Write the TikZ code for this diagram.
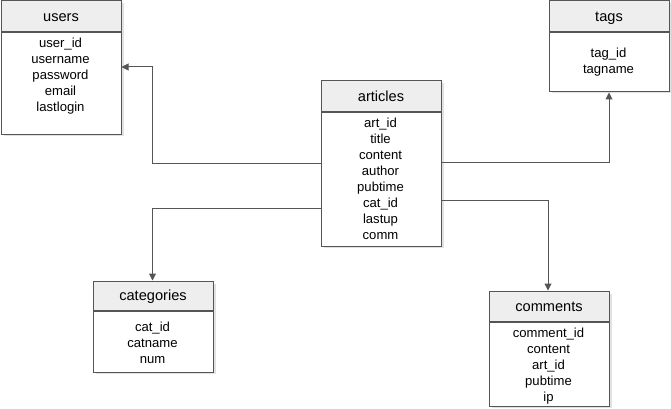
\documentclass[tikz,border=0pt]{standalone}
\usepackage{fontspec}
\setmainfont{Liberation Sans}
\usetikzlibrary{arrows.meta}
\definecolor{edgec}{HTML}{555555}
\definecolor{headc}{HTML}{EEEEEE}
\definecolor{shadec}{HTML}{E2E2E2}
\newcommand\erfields[4]{%
  \foreach \f [count=\i] in {#4} {\node[fld] (#1-\i) at (#2, #3+16*\i-16) {\f};}}
\begin{document}
\begin{tikzpicture}[x=1pt,y=-1pt,
  tblfont/.style={font=\fontsize{13.1}{16}\selectfont},
  hdrfont/.style={font=\fontsize{14.6}{17}\selectfont},
  hdr/.style={draw=edgec, fill=headc, line width=1pt, inner sep=0pt, anchor=north west,
    minimum width=120pt, text height=15pt, text depth=4pt, hdrfont},
  bodyb/.style={draw=edgec, fill=white, line width=1pt, inner sep=0pt, anchor=north west,
    minimum width=120pt},
  fld/.style={anchor=base, inner sep=0pt, tblfont},
  shadow/.style={fill=shadec, draw=none},
  conn/.style={draw=edgec, line width=1pt, -{Triangle[length=7pt,width=7pt]}},
  link/.style={draw=edgec, line width=1pt}]
\useasboundingbox (0,0) rectangle (671,409);
% shadows
\fill[shadow] (3.5,3.5) rectangle (123.5,135.5);
\fill[shadow] (551.5,3.5) rectangle (671.5,93.5);
\fill[shadow] (323.5,83.5) rectangle (443.5,247.5);
\fill[shadow] (95.5,283.5) rectangle (215.5,373.5);
\fill[shadow] (491.5,293.5) rectangle (611.5,407.5);
% users
\node[hdr, minimum height=31pt] (uh) at (0.5,0.5) {users};
\node[bodyb, minimum height=101pt] (ub) at (uh.south west) {};
\erfields{u}{60.5}{47.5}{user\_id,username,password,email,lastlogin}
% tags
\node[hdr, minimum height=31pt] (th) at (548.5,0.5) {tags};
\node[bodyb, minimum height=59pt] (tb) at (th.south west) {};
\erfields{t}{608.5}{58}{tag\_id,tagname}
% articles
\node[hdr, minimum height=31pt] (ah) at (320.5,80.5) {articles};
\node[bodyb, minimum height=133pt] (ab) at (ah.south west) {};
\erfields{a}{380.5}{127.5}{art\_id,title,content,author,pubtime,cat\_id,lastup,comm}
% categories
\node[hdr, minimum height=29pt, text height=14pt] (ch) at (92.5,280.5) {categories};
\node[bodyb, minimum height=61pt] (cb) at (ch.south west) {};
\erfields{c}{152.5}{331.5}{cat\_id,catname,num}
% comments
\node[hdr, minimum height=30pt] (mh) at (488.5,290.5) {comments};
\node[bodyb, minimum height=84pt] (mb) at (mh.south west) {};
\erfields{m}{548.5}{337}{comment\_id,content,art\_id,pubtime,ip}
% connectors
\coordinate (j1) at (152.5,67);
\coordinate (j2) at (152.5,208);
\draw[conn] (ab.west |- 0,163) -| (j1) -- (ub.east |- j1);
\draw[conn] (ab.west |- j2) -- (j2) -- (ch.north -| j2);
\draw[conn] (ab.east |- 0,162) -| (tb.south -| 609,0);
\draw[conn] (ab.east |- 0,200) -| (mh.north -| 548,0);
\end{tikzpicture}
\end{document}
